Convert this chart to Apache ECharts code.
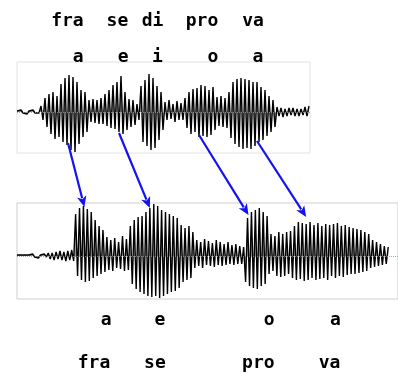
<!DOCTYPE html>
<html>
<head>
<meta charset="utf-8">
<style>html,body{margin:0;padding:0;background:#fff}#c{width:398px;height:373px}</style>
<script src="https://cdn.jsdelivr.net/npm/echarts@6/dist/echarts.min.js"></script>
</head>
<body>
<div id="c"></div>
<script>
// Peaks/troughs of the original recording (one value per half-oscillation)
var originalWave = [1,-1,2,-1,1,-2,1,-1,2,-1,1,-1,
  6,-8,14,-15,
  18,-22,20,-27,16,-25,
  28,-30,34,-33,37,-38,35,-40,
  30,-32,22,-25,20,-20,
  12,-10,13,-11,12,-12,14,
  -12,18,-14,22,-16,27,-17,
  30,-20,36,-22,
  20,-18,13,-15,12,-13,
  8,-8,
  26,-30,32,-34,38,-38,34,-36,
  26,-28,20,-18,
  10,-8,12,-7,8,-10,11,-8,9,-8,
  14,-16,20,-22,23,-20,24,
  -25,27,-24,26,-25,22,-23,25,
  -18,15,-14,16,-15,14,-16,20,
  -26,30,-32,33,-35,34,-37,33,-36,32,-37,30,-34,30,-30,
  25,-28,22,-24,16,-20,12,-15,
  5,-4,4,-5,3,-4,4,-3,4,-4,3,-4,3,-3,5,-4,6];
// Peaks/troughs of the modified recording
var modifiedWave = [1,-1,1,-1,1,-1,1,-1,2,-1,1,-2,1,-1,2,-1,
  3,-3,3,-4,4,-3,5,-4,4,-5,5,-4,6,-5,
  42,-20,48,-24,50,-26,47,-25,44,
  -22,36,-20,30,-18,26,-16,
  19,-14,16,-15,18,-12,14,-13,20,-15,17,-14,
  30,-28,36,-33,39,-36,40,
  -38,44,-40,48,-41,52,-40,50,-42,46,-40,44,-38,42,-36,40,-35,38,-32,
  31,-26,28,-24,30,-22,24,
  -12,16,-10,14,-12,17,-9,15,-10,13,-11,16,-9,14,-10,12,-9,14,-8,11,-9,12,-8,10,-8,9,
  -26,38,-30,44,-32,46,-33,48,-30,44,-28,40,
  -18,22,-15,20,
  -20,24,-21,22,-20,24,-18,25,
  -22,30,-24,34,-23,33,-25,32,-24,34,-22,31,-24,33,-23,30,-22,32,-24,31,
  -20,32,-22,33,-20,30,-21,31,-19,29,-18,28,-18,27,-17,26,-16,24,-15,22,
  -12,16,-11,14,-10,12,-9,10,-8,9];

// Syllable / vowel labels and their positions (sample index)
var topSyllables = ["fra","se","di","pro","va"];
var topSyllablePos = [25.2, 50.2, 67.8, 92.5, 118];
var topVowels = ["a","e","i","o","a"];
var topVowelPos = [30.6, 53.1, 70.2, 98, 120.5];
var bottomVowels = ["a","e","o","a"];
var bottomVowelPos = [45.6, 73.1, 129, 163];
var bottomSyllables = ["fra","se","pro","va"];
var bottomSyllablePos = [39.4, 70.6, 123.5, 160];

// Arrows: [origIndex, origAmp] -> [modIndex, modAmp]
var arrowFrom = [[25.5,-31],[51,-21],[91,-23],[120,-29]];
var arrowTo = [[34.5,49],[68,48],[118.5,41],[148,39]];

var chart = echarts.init(document.getElementById('c'), null, {renderer:'canvas'});
function toPairs(a){ return a.map(function(v,i){ return [i,v]; }); }
var zeroLine = {silent:true, symbol:'none', label:{show:false},
  lineStyle:{color:'#6aa0b0', type:'dotted', width:1, opacity:0.8}, data:[{yAxis:0}]};
var waveLine = {color:'#000', width:1.4};
var waveArea = {color:'#7a7a7a', opacity:0.75, origin:0};

chart.setOption({
  animation:false,
  grid:[
    {left:17, top:62, width:293, height:91, show:true, borderColor:'#e2e2e2', borderWidth:1, backgroundColor:'#fff'},
    {left:17, top:203, width:390, height:96, show:true, borderColor:'#cfcfcf', borderWidth:1, backgroundColor:'#fff'}
  ],
  xAxis:[
    {gridIndex:0, type:'value', min:0, max:146.5, show:false},
    {gridIndex:1, type:'value', min:0, max:195, show:false}
  ],
  yAxis:[
    {gridIndex:0, type:'value', min:-41, max:50, show:false},
    {gridIndex:1, type:'value', min:-43, max:53, show:false}
  ],
  series:[
    {type:'line', xAxisIndex:0, yAxisIndex:0, data:toPairs(originalWave), showSymbol:false, symbol:'none',
     lineStyle:waveLine, areaStyle:waveArea, markLine:zeroLine},
    {type:'line', xAxisIndex:1, yAxisIndex:1, data:toPairs(modifiedWave), showSymbol:false, symbol:'none',
     lineStyle:waveLine, areaStyle:waveArea, markLine:zeroLine}
  ]
});

var g = [];
function addTexts(labels, pos, grid, y, weight){
  labels.forEach(function(t,i){
    var p = chart.convertToPixel({gridIndex:grid}, [pos[i], 0]);
    g.push({type:'text', x:p[0], y:y, style:{text:t, fill:'#000',
      font: weight+' 18px "DejaVu Sans Mono"', textAlign:'center', textVerticalAlign:'middle'}});
  });
}
addTexts(topSyllables, topSyllablePos, 0, 21.5, 'bold');
addTexts(topVowels, topVowelPos, 0, 57, 'bold');
addTexts(bottomVowels, bottomVowelPos, 1, 320.5, 'bold');
addTexts(bottomSyllables, bottomSyllablePos, 1, 363.5, 'bold');

arrowFrom.forEach(function(f,i){
  var a = chart.convertToPixel({gridIndex:0}, f);
  var b = chart.convertToPixel({gridIndex:1}, arrowTo[i]);
  var dx=b[0]-a[0], dy=b[1]-a[1], L=Math.sqrt(dx*dx+dy*dy), ux=dx/L, uy=dy/L;
  var hl=11, hw=4.8;
  var bx=b[0]-ux*hl, by=b[1]-uy*hl;
  g.push({type:'line', shape:{x1:a[0],y1:a[1],x2:bx+ux*2,y2:by+uy*2}, style:{stroke:'#1212f5', lineWidth:2.2}, z:10});
  g.push({type:'polygon', shape:{points:[[b[0],b[1]],[bx-uy*hw,by+ux*hw],[bx+ux*3,by+uy*3],[bx+uy*hw,by-ux*hw]]},
    style:{fill:'#1212f5'}, z:10});
});
chart.setOption({graphic:g});
</script>
</body>
</html>
